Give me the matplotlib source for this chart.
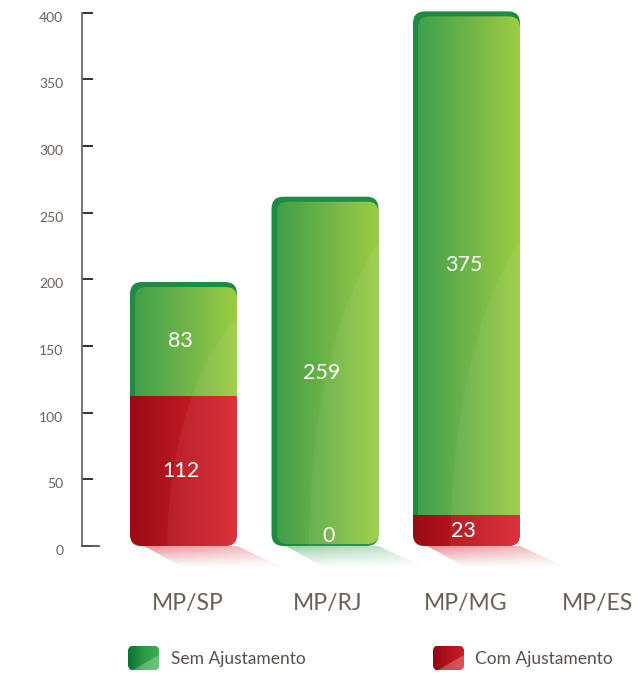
import numpy as np
import matplotlib
matplotlib.use("Agg")
import matplotlib.pyplot as plt
from matplotlib.patches import FancyBboxPatch, Polygon, Ellipse, Rectangle, Patch
from matplotlib.colors import LinearSegmentedColormap, to_rgb
from matplotlib.legend_handler import HandlerBase
import matplotlib.transforms as mtransforms

# ---------------- data ----------------
categories = ["MP/SP", "MP/RJ", "MP/MG", "MP/ES"]
sem_ajustamento = [83, 259, 375, 0]
com_ajustamento = [112, 0, 23, 0]
has_bar = [True, True, True, False]
y_ticks = [0, 50, 100, 150, 200, 250, 300, 350, 400]
series_names = ["Sem Ajustamento", "Com Ajustamento"]

# ---------------- style ----------------
plt.rcParams['font.family'] = ['Lato', 'DejaVu Sans']
TXT = '#6b6055'
green_cmap = LinearSegmentedColormap.from_list('g', ['#40a04b', '#6fb449', '#9dcd43'])
red_cmap = LinearSegmentedColormap.from_list('r', ['#990c13', '#bd1720', '#da2630'])
green_dark = '#1f8a42'
leg_green = LinearSegmentedColormap.from_list('lg', ['#0a7034', '#2a9a44', '#3db14b'])
leg_red = LinearSegmentedColormap.from_list('lr', ['#8a0810', '#b3121b', '#cc1d27'])

W_PX, H_PX = 638, 676
fig = plt.figure(figsize=(W_PX / 100, H_PX / 100), dpi=100)
ax = fig.add_axes([82 / W_PX, 76 / H_PX, 556 / W_PX, 600 / H_PX])

PX_X = 141.5          # pixels per category unit
PX_Y = 533.3 / 400    # pixels per value unit
xl = -101.5 / PX_X
ax.set_xlim(xl, xl + 556 / PX_X)
ax.set_ylim(-40.5, -40.5 + 600 / PX_Y)

def dx(p):
    return p / PX_X

def dy(p):
    return p / PX_Y

width = 0.756
rx = dx(12)
asp = PX_X / PX_Y
grad = np.linspace(0, 1, 256).reshape(1, -1)

def grad_img(cmap, extent, clip, z, alpha=1.0):
    im = ax.imshow(grad, cmap=cmap, extent=extent, origin='lower', aspect='auto',
                   interpolation='bilinear', zorder=z, alpha=alpha)
    im.set_clip_path(clip)
    return im

for i, cat in enumerate(categories):
    if not has_bar[i]:
        continue
    g = sem_ajustamento[i]
    r = com_ajustamento[i]
    total = g + r
    x0, x1 = i - width / 2, i + width / 2
    top_out = total + dy(4)

    # shadow
    shade = '#c9151f' if r > 0 else '#2f9a4a'
    poly = Polygon([(x0 + dx(14), 0), (x1, 0), (x1 + dx(48), -dy(22)), (x0 + dx(54), -dy(22))],
                   closed=True, fc='none', ec='none')
    ax.add_patch(poly)
    ny, nx = 40, 80
    yy = np.linspace(1, 0, ny)[:, None]
    xx = np.linspace(0, 1, nx)[None, :]
    a = 0.5 * yy ** 1.1 * (1 - 0.55 * xx)
    rgba = np.zeros((ny, nx, 4))
    rgba[..., :3] = to_rgb(shade)
    rgba[..., 3] = a
    sim = ax.imshow(rgba, extent=[x0, x1 + dx(48), -dy(22), 0], origin='upper',
                    aspect='auto', interpolation='bilinear', zorder=1)
    sim.set_clip_path(poly)

    # outer (dark) shape
    outer = FancyBboxPatch((x0, 0), width, top_out,
                           boxstyle=f"round,pad=0,rounding_size={rx}",
                           mutation_aspect=asp, fc=green_dark, ec='none', zorder=2)
    ax.add_patch(outer)
    inner_bottom = dy(2)
    inner_top = total - dy(1)
    inner = FancyBboxPatch((x0 + dx(5), inner_bottom), width - dx(5), inner_top - inner_bottom,
                           boxstyle=f"round,pad=0,rounding_size={dx(11)}",
                           mutation_aspect=asp, fc='none', ec='none', zorder=2)
    ax.add_patch(inner)
    grad_img(green_cmap, [x0 + dx(5), x1, inner_bottom, inner_top], inner, 3)

    if r > 0:
        rclip = FancyBboxPatch((x0, 0), width, top_out,
                               boxstyle=f"round,pad=0,rounding_size={rx}",
                               mutation_aspect=asp, fc='none', ec='none', zorder=2)
        ax.add_patch(rclip)
        grad_img(red_cmap, [x0, x1, 0, r], rclip, 4)

    # glossy highlight
    gl = Ellipse((x1 + 0.6 * width, 0), 2.5 * width, 2.0 * min(total, 260),
                 fc='white', ec='none', alpha=0.06, zorder=5)
    ax.add_patch(gl)
    gl.set_clip_path(outer)

    # value labels
    if r > 0:
        ax.text(i - dx(3), r / 2, str(r), color='white', fontsize=15.5,
                ha='center', va='center', zorder=6)
    else:
        ax.text(i + dx(4), dy(0), str(r), color='white', fontsize=15.5,
                ha='center', va='bottom', zorder=6)
    ax.text(i - dx(3), r + g / 2, str(g), color='white', fontsize=15.5,
            ha='center', va='center', zorder=6)

# ---------------- axes styling ----------------
for s in ['top', 'right']:
    ax.spines[s].set_visible(False)
ax.spines['left'].set_bounds(0, 400)
ax.spines['left'].set_color('#6a6a6a')
ax.spines['left'].set_linewidth(1.3)
ax.spines['bottom'].set_position(('data', 0))
ax.spines['bottom'].set_bounds(xl, xl + dx(17))
ax.spines['bottom'].set_color('#555555')
ax.spines['bottom'].set_linewidth(1.3)

ax.set_yticks(y_ticks)
ax.set_yticklabels([str(v) for v in y_ticks])
ax.set_yticks(y_ticks[1:], minor=True)
ax.tick_params(axis='y', which='major', direction='in', length=8, width=1.3,
               color='#222222', labelsize=10, labelcolor=TXT, pad=13.5)
ax.tick_params(axis='y', which='minor', direction='out', length=4.3, width=1.3,
               color='#222222')
off = mtransforms.ScaledTranslation(0, -4 / 100, fig.dpi_scale_trans)
for lab in ax.get_yticklabels():
    lab.set_transform(lab.get_transform() + off)

ax.set_xticks(range(len(categories)))
ax.set_xticklabels(categories)
ax.tick_params(axis='x', which='both', length=0, labelsize=16.5, labelcolor=TXT, pad=34)
xlabs = ax.get_xticklabels()
x_shift_px = [4, 3, -1, -11]
for lab, sp in zip(xlabs, x_shift_px):
    lab.set_transform(lab.get_transform() +
                      mtransforms.ScaledTranslation(sp / 100, 0, fig.dpi_scale_trans))


# ---------------- legend ----------------
class GradHandler(HandlerBase):
    def __init__(self, cmap, **kw):
        super().__init__(**kw)
        self.cmap = cmap

    def create_artists(self, legend, orig_handle, xdescent, ydescent, width, height,
                       fontsize, trans):
        x0, y0 = -xdescent, -ydescent
        box = FancyBboxPatch((x0, y0), width, height,
                             boxstyle="round,pad=0,rounding_size=4",
                             fc='none', ec='none', transform=trans)
        arts = [box]
        n = 24
        for k in range(n):
            rct = Rectangle((x0 + k * width / n, y0), width / n * 1.1, height,
                            fc=self.cmap(k / (n - 1)), ec='none', transform=trans)
            rct.set_clip_path(box)
            arts.append(rct)
        tri = Polygon([(x0 + width * 0.15, y0), (x0 + width, y0), (x0 + width, y0 + height * 0.62)],
                      closed=True, fc='white', ec='none', alpha=0.25, transform=trans)
        tri.set_clip_path(box)
        arts.append(tri)
        return arts


h1 = Patch(facecolor='#2a9a44')
h2 = Patch(facecolor='#b3121b')
leg = ax.legend([h1, h2], series_names, ncol=2, frameon=False,
                loc='center left', bbox_to_anchor=(128 / W_PX, (H_PX - 658) / H_PX),
                bbox_transform=fig.transFigure, borderpad=0, borderaxespad=0,
                fontsize=12.5, handlelength=1.8, handleheight=1.8,
                handletextpad=0.65, columnspacing=7.35,
                handler_map={h1: GradHandler(leg_green),
                             h2: GradHandler(leg_red)})
for t in leg.get_texts():
    t.set_color('#5a5048')

fig.savefig('out.png', dpi=100)
